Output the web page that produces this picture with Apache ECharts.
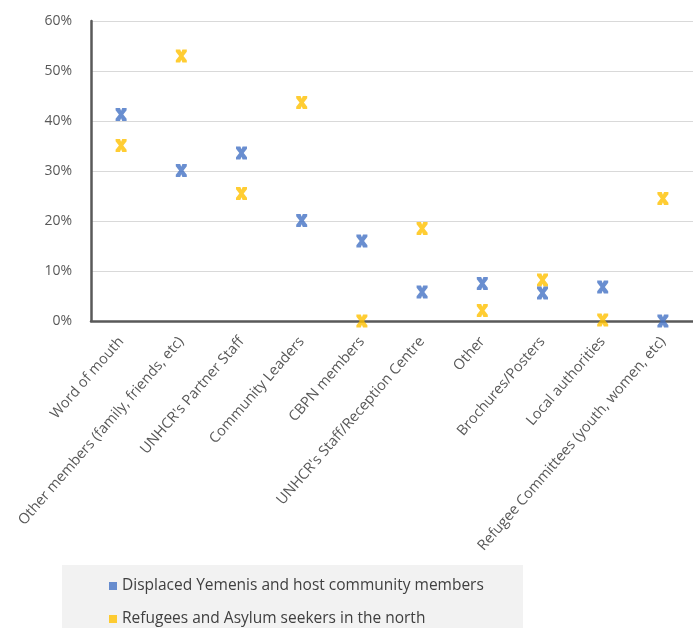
<!DOCTYPE html>
<html>
<head>
<meta charset="utf-8">
<script src="https://cdn.jsdelivr.net/npm/echarts@6/dist/echarts.min.js"></script>
<style>html,body{margin:0;padding:0;background:#fff}#c{width:693px;height:628px}</style>
</head>
<body>
<div id="c"></div>
<script>
const categories = ["Word of mouth", "Other members (family, friends, etc)", "UNHCR's Partner Staff", "Community Leaders", "CBPN members", "UNHCR's Staff/Reception Centre", "Other", "Brochures/Posters", "Local authorities", "Refugee Committees (youth, women, etc)"];
const seriesNames = ["Displaced Yemenis and host community members", "Refugees and Asylum seekers in the north"];
const displaced = [0.413, 0.301, 0.336, 0.201, 0.160, 0.058, 0.075, 0.056, 0.068, 0.000];
const refugees = [0.351, 0.530, 0.255, 0.437, 0.000, 0.185, 0.021, 0.082, 0.002, 0.245];
const yTicks = [0, 0.1, 0.2, 0.3, 0.4, 0.5, 0.6];

const marker = 'path://M0,0 L4,0 L5,2.5 L6,0 L10,0 L10,2 L7,6 L10,10 L10,12 L6,12 L5,9.5 L4,12 L0,12 L0,10 L3,6 L0,2 Z';
const chart = echarts.init(document.getElementById('c'), null, {renderer: 'canvas'});
chart.setOption({
  animation: false,
  backgroundColor: '#ffffff',
  textStyle: {fontFamily: 'Open Sans'},
  grid: {left: 91, top: 21, bottom: 307, right: -8, containLabel: false},
  graphic: [{type: 'rect', left: 62, top: 565, shape: {width: 461, height: 70}, style: {fill: '#f2f2f2'}, z: 0}],
  xAxis: {
    type: 'category', data: categories, boundaryGap: true,
    axisLine: {lineStyle: {color: '#595959', width: 2.5}},
    axisTick: {show: false},
    axisLabel: {interval: 0, rotate: 49, color: '#595959', fontSize: 14.5, fontFamily: 'Open Sans', margin: 18},
    splitLine: {show: false}
  },
  yAxis: {
    type: 'value', min: yTicks[0], max: yTicks[yTicks.length - 1], interval: 0.1,
    axisLine: {show: true, lineStyle: {color: '#595959', width: 2.5}},
    axisTick: {show: false},
    axisLabel: {color: '#595959', fontSize: 14, fontFamily: 'Open Sans', margin: 19, formatter: v => Math.round(v * 100) + '%'},
    splitLine: {lineStyle: {color: '#d9d9d9', width: 1}}
  },
  legend: {
    orient: 'vertical', left: 104, top: 573, height: 120, itemWidth: 8, itemHeight: 8, itemGap: 17,
    icon: 'rect', data: seriesNames,
    textStyle: {color: '#404040', fontSize: 15.5, fontFamily: 'Open Sans'}
  },
  series: [
    {name: seriesNames[0], type: 'scatter', data: displaced, symbol: marker, symbolSize: [11, 13], itemStyle: {color: '#4472C4'}, z: 3},
    {name: seriesNames[1], type: 'scatter', data: refugees, symbol: marker, symbolSize: [11, 13], itemStyle: {color: '#FFC000'}, z: 2}
  ]
});
</script>
</body>
</html>
